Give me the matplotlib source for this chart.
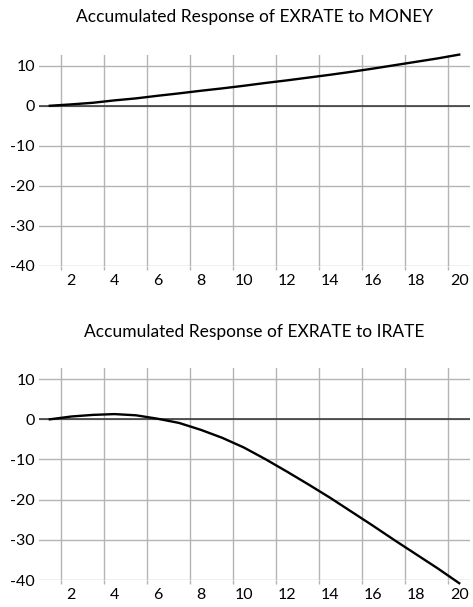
import matplotlib
matplotlib.use("Agg")
import matplotlib.pyplot as plt

# Accumulated impulse responses of EXRATE, periods 1..20
periods = list(range(1, 21))
resp_money = [0.0, 0.35, 0.75, 1.35, 1.85, 2.5, 3.1, 3.75, 4.35, 5.0,
              5.7, 6.35, 7.05, 7.75, 8.5, 9.3, 10.15, 11.0, 11.85, 12.8]
resp_irate = [0.0, 0.7, 1.1, 1.3, 1.0, 0.15, -0.9, -2.6, -4.6, -7.0,
              -9.9, -13.0, -16.2, -19.5, -23.0, -26.5, -30.1, -33.6, -37.1, -40.8]

titles = ["Accumulated Response of EXRATE to MONEY",
          "Accumulated Response of EXRATE to IRATE"]
x_labels = [2, 4, 6, 8, 10, 12, 14, 16, 18, 20]
y_ticks = [10, 0, -10, -20, -30, -40]

GRID = "#b4b4b4"
plt.rcParams["font.family"] = ["Lato", "DejaVu Sans"]
plt.rcParams["axes.unicode_minus"] = False

W, H = 473, 607
fig = plt.figure(figsize=(W / 100, H / 100), dpi=100)

# panel boxes in pixels: (top, bottom), title centre y
panels = [((55, 265.7), 17), ((368.3, 580), 332)]
left, right = 39, 470


def draw_panel(ax, values, title, title_y):
    ax.plot(periods, values, color="black", lw=1.7, clip_on=False, zorder=4)
    ax.axhline(0, color="#303030", lw=1.1, zorder=3)
    ax.set_xlim(0.5, 20.5)
    ax.set_ylim(-40, 12.7)

    ax.set_xticks(x_labels)
    ax.set_xticks([v - 0.5 for v in x_labels], minor=True)
    ax.set_yticks(y_ticks)
    ax.tick_params(axis="x", which="major", length=0, pad=6, labelsize=11.5)
    ax.tick_params(axis="x", which="minor", length=3, color=GRID, width=1)
    ax.tick_params(axis="y", length=0, pad=3, labelsize=11.5)

    ax.grid(True, axis="x", which="minor", color=GRID, lw=1)
    ax.grid(True, axis="y", which="major", color=GRID, lw=1)
    ax.set_axisbelow(True)
    for s in ax.spines.values():
        s.set_visible(False)

    cx = (left + right) / 2 / W
    fig.text(cx, 1 - title_y / H, title, ha="center", va="center", fontsize=12.5)


for (box, ty), vals, title in zip(panels, [resp_money, resp_irate], titles):
    top, bottom = box
    ax = fig.add_axes([left / W, 1 - bottom / H, (right - left) / W, (bottom - top) / H])
    draw_panel(ax, vals, title, ty)

fig.savefig("out.png", dpi=100)
